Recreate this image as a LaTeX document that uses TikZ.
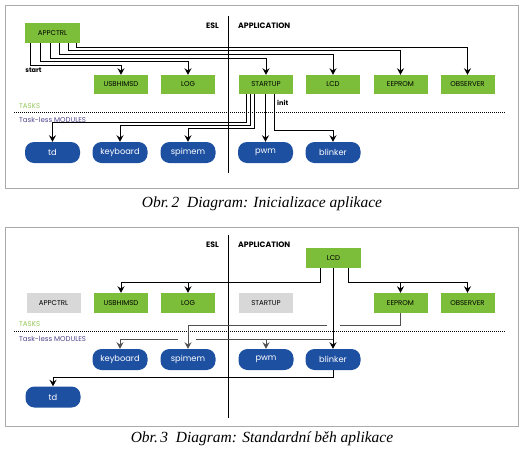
\documentclass[tikz,border=0pt]{standalone}
\usepackage{fontspec}
\setmainfont{Liberation Serif}
\newfontfamily\diafont{Poppins}
\usetikzlibrary{arrows.meta,calc}
\definecolor{tgreen}{RGB}{124,190,58}
\definecolor{tgray}{RGB}{216,216,216}
\definecolor{mblue}{RGB}{30,80,162}
\definecolor{lblgreen}{RGB}{150,200,90}
\definecolor{lblpurple}{RGB}{80,70,140}
\definecolor{framegray}{RGB}{170,170,170}
\definecolor{linegray}{RGB}{80,80,80}
\tikzset{
  task/.style={fill=tgreen, minimum width=54pt, minimum height=19pt, inner sep=0pt, font=\diafont\fontsize{7}{8}\selectfont},
  idle/.style={task, fill=tgray},
  mod/.style={fill=mblue, text=white, rounded corners=9pt, minimum width=55pt, minimum height=21pt, inner sep=0pt, font=\diafont\fontsize{8.3}{9}\selectfont},
  conn/.style={draw=black, line width=1pt, -{Stealth[length=6.5pt,width=7pt,inset=2.2pt]}},
  plain/.style={draw=black, line width=1pt},
  gconn/.style={conn, draw=linegray},
  gplain/.style={plain, draw=linegray},
  hdr/.style={font=\diafont\bfseries\fontsize{7.8}{9}\selectfont, inner sep=0pt},
  lbl/.style={font=\diafont\bfseries\fontsize{6.6}{7}\selectfont, inner sep=0pt},
  tasklbl/.style={font=\diafont\fontsize{7}{8}\selectfont, text=lblgreen, inner sep=0pt, anchor=west},
  modlbl/.style={font=\diafont\fontsize{7}{8}\selectfont, text=lblpurple, inner sep=0pt, anchor=west},
  sep/.style={draw=black, line width=0.9pt, dash pattern=on 1pt off 1pt},
  divider/.style={draw=black, line width=1pt},
  frame/.style={draw=framegray, line width=0.8pt},
  caption/.style={font=\itshape\fontsize{15.5}{17}\selectfont, inner sep=0pt}
}
\begin{document}
\begin{tikzpicture}[x=1pt,y=-1pt]
\useasboundingbox (0,0) rectangle (523,453);
\fill[white] (0,0) rectangle (523,453);

% ================= Figure 2 =================
\draw[frame] (5,5) rectangle (518,188);
\node[hdr, anchor=east] (esl1) at (219,26) {ESL};
\node[hdr, anchor=west] (app1) at (238,26) {APPLICATION};
\coordinate (d1t) at (228,16);
\coordinate (d1b) at (228,173);
\draw[divider] (d1t) -- (d1b);

\node[task, minimum height=20pt, minimum width=55pt] (appctrl) at (52.5,33) {APPCTRL};
\node[task] (usb) at (121,84.5) {USBHIMSD};
\node[task] (log) at (188,84.5) {LOG};
\node[task] (startup) at (266,84.5) {STARTUP};
\node[task] (lcd) at (333,84.5) {LCD};
\node[task] (eeprom) at (400.5,84.5) {EEPROM};
\node[task] (observer) at (467.5,84.5) {OBSERVER};

\node[tasklbl] (tasks1) at (19,106) {TASKS};
\coordinate (s1a) at (14,112);
\coordinate (s1b) at (506,112);
\draw[sep] (s1a) -- (s1b);
\node[modlbl] (mods1) at (19,120) {Task-less MODULES};

\node[mod] (td) at (52.5,152.5) {td};
\node[mod] (kb) at (120,152.5) {keyboard};
\node[mod] (spi) at (188,152.5) {spimem};
\node[mod] (pwm) at (265.5,152.5) {pwm};
\node[mod] (blink) at (333,152.5) {blinker};

% APPCTRL -> tasks
\draw[conn] (appctrl.south -| 30,0) |- (usb.north |- 0,65) -- (usb.north);
\draw[conn] (appctrl.south -| 40,0) |- (log.north |- 0,61.5) -- (log.north);
\draw[conn] (appctrl.south -| 50,0) |- (startup.north |- 0,58) -- (startup.north);
\draw[conn] (appctrl.south -| 59,0) |- (lcd.north |- 0,54) -- (lcd.north);
\draw[conn] (appctrl.south -| 68,0) |- (eeprom.north |- 0,50.5) -- (eeprom.north);
\draw[conn] (appctrl.south -| 76,0) |- (observer.north |- 0,47) -- (observer.north);
\node[lbl] (startlbl) at (33.5,70) {start};

% STARTUP -> modules
\draw[conn] (startup.south -| 246,0) |- (td.north |- 0,122) -- (td.north);
\draw[conn] (startup.south -| 250,0) |- (kb.north |- 0,125) -- (kb.north);
\draw[conn] (startup.south -| 254,0) |- (spi.north |- 0,128) -- (spi.north);
\draw[conn] (startup.south -| pwm.north) -- (pwm.north);
\draw[conn] (startup.south -| 274,0) |- (blink.north |- 0,130) -- (blink.north);
\node[lbl, anchor=west] (initlbl) at (277,103) {init};

\node[caption] (cap1) at (262,204) {Obr.\,2\ \ Diagram: Inicializace aplikace};

% ================= Figure 3 =================
\draw[frame] (5,227) rectangle (518,426);
\node[hdr, anchor=east] (esl2) at (219,245) {ESL};
\node[hdr, anchor=west] (app2) at (238,245) {APPLICATION};
\coordinate (d2t) at (228,235);
\coordinate (d2b) at (228,418);
\draw[divider] (d2t) -- (d2b);

\node[task, minimum height=20pt, minimum width=55pt] (lcd2) at (333.5,258) {LCD};
\node[idle, minimum height=20pt] (appctrl2) at (53.5,303) {APPCTRL};
\node[task, minimum height=20pt] (usb2) at (121,303) {USBHIMSD};
\node[task, minimum height=20pt] (log2) at (188,303) {LOG};
\node[idle, minimum height=20pt] (startup2) at (266,303) {STARTUP};
\node[task, minimum height=20pt] (eeprom2) at (400.5,303) {EEPROM};
\node[task, minimum height=20pt] (observer2) at (467.5,303) {OBSERVER};

\node[tasklbl] (tasks2) at (19,324) {TASKS};
\coordinate (s2a) at (14,331);
\coordinate (s2b) at (506,331);
\draw[sep] (s2a) -- (s2b);
\node[modlbl] (mods2) at (19,339) {Task-less MODULES};

\node[mod] (kb2) at (120,359.5) {keyboard};
\node[mod] (spi2) at (188,359.5) {spimem};
\node[mod] (pwm2) at (266,359.5) {pwm};
\node[mod] (blink2) at (333,359.5) {blinker};
\node[mod] (td2) at (53,397) {td};

% LCD -> tasks
\draw[conn] (lcd2.south -| 320,0) |- (usb2.north |- 0,282) -- (usb2.north);
\draw[conn] (lcd2.south -| 320,0) |- (log2.north |- 0,282) -- (log2.north);
\draw[conn] (lcd2.south -| 348,0) |- (eeprom2.north |- 0,282) -- (eeprom2.north);
\draw[conn] (lcd2.south -| 348,0) |- (observer2.north |- 0,282) -- (observer2.north);
% LCD -> modules
\draw[conn] (lcd2.south -| blink2.north) -- (blink2.north);
\coordinate (br) at (333,339);
\coordinate (g2a) at (196,339);
\coordinate (g2b) at (178,339);
\draw[gconn] (br) -| (pwm2.north);
\draw[gplain] (br) -- (g2a);
\draw[gconn] (g2b) -| (kb2.north);
% EEPROM -> spimem
\coordinate (g1a) at (340,325);
\coordinate (g1b) at (327,325);
\draw[gplain] (eeprom2.south) |- (g1a);
\draw[gconn] (g1b) -| (spi2.north);
% blinker -> td
\draw[conn] (blink2.south) |- (td2.north |- 0,377) -- (td2.north);

\node[caption] (cap2) at (262,439) {Obr.\,3\ \ Diagram: Standardní běh aplikace};
\end{tikzpicture}
\end{document}
